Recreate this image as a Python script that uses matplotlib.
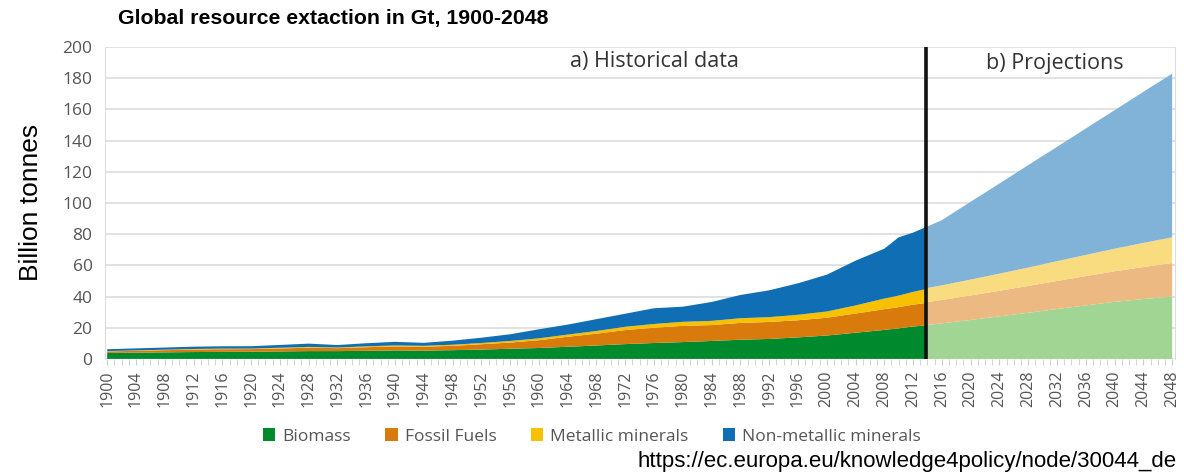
"""Global resource extraction in Gt, 1900-2048 (stacked area, history + projections)."""
import matplotlib
matplotlib.use("Agg")
import matplotlib.pyplot as plt
from matplotlib.patches import Patch

# historical data, Gt
hist_years = [1900, 1904, 1908, 1912, 1916, 1920, 1924, 1928, 1932, 1936, 1940, 1944,
              1948, 1952, 1956, 1960, 1964, 1968, 1972, 1976, 1980, 1984, 1988, 1992,
              1996, 2000, 2004, 2008, 2010, 2012, 2014]
hist_biomass = [3.8, 4.0, 4.2, 4.4, 4.5, 4.6, 4.8, 5.0, 5.0, 5.2, 5.4, 5.3,
                5.6, 6.0, 6.5, 7.0, 7.8, 8.6, 9.5, 10.2, 10.8, 11.5, 12.3, 12.8,
                13.8, 15.0, 16.8, 18.6, 19.6, 20.8, 21.5]
hist_fossil = [1.0, 1.2, 1.4, 1.6, 1.7, 1.7, 1.9, 2.2, 1.9, 2.3, 2.6, 2.5,
               2.8, 3.4, 4.0, 5.0, 6.4, 7.6, 9.0, 9.8, 10.4, 10.2, 10.8, 10.9,
               11.0, 11.4, 12.3, 13.3, 13.6, 14.0, 14.5]
hist_metallic = [0.2, 0.25, 0.3, 0.35, 0.4, 0.35, 0.45, 0.5, 0.4, 0.55, 0.65, 0.6,
                 0.7, 0.8, 1.0, 1.2, 1.4, 1.7, 2.1, 2.4, 2.6, 2.7, 3.0, 3.1,
                 3.5, 4.0, 5.2, 6.8, 7.4, 8.2, 9.0]
hist_nonmetallic = [1.2, 1.3, 1.4, 1.5, 1.5, 1.5, 1.8, 2.1, 1.6, 2.0, 2.3, 1.9,
                    2.6, 3.4, 4.3, 5.8, 6.4, 7.6, 8.4, 10.1, 9.7, 12.1, 14.9, 17.2,
                    20.2, 23.6, 28.7, 32.0, 37.4, 38.0, 40.0]

# projections, Gt
proj_years = [2014, 2016, 2020, 2024, 2028, 2032, 2036, 2040, 2044, 2048]
proj_biomass = [21.8, 22.8, 25.0, 27.3, 29.6, 32.0, 34.3, 36.6, 38.4, 40.0]
proj_fossil = [14.7, 15.0, 15.7, 16.4, 17.2, 18.0, 18.8, 19.6, 20.5, 21.5]
proj_metallic = [9.0, 9.4, 10.2, 11.0, 11.8, 12.7, 13.6, 14.5, 15.5, 16.5]
proj_nonmetallic = [39.5, 41.8, 49.9, 57.8, 65.7, 73.3, 81.1, 88.8, 96.9, 105.0]

labels = ["Biomass", "Fossil Fuels", "Metallic minerals", "Non-metallic minerals"]
colors = ["#008a2e", "#d97b0c", "#f7c000", "#0f6eb4"]
light = ["#a1d594", "#ebb981", "#f8dc7f", "#80b3d7"]

tick_years = list(range(1900, 2049, 4))
divider_year = 2013.8

fig = plt.figure(figsize=(11.84, 4.76), dpi=100)
ax = fig.add_axes([0.0887, 0.246, 0.9037, 0.655])

ax.stackplot(hist_years, hist_biomass, hist_fossil, hist_metallic, hist_nonmetallic,
             colors=colors, linewidth=0)
ax.stackplot(proj_years, proj_biomass, proj_fossil, proj_metallic, proj_nonmetallic,
             colors=light, linewidth=0)
ax.axvline(divider_year, color="#111111", linewidth=2.6, zorder=5)

ax.set_xlim(1899.7, 2048.4)
ax.set_ylim(0, 200)
ax.set_yticks(range(0, 201, 20))
ax.set_xticks(tick_years)
ax.set_xticks(range(1900, 2049), minor=True)
ax.set_xticklabels([str(y) for y in tick_years], rotation=90, family="Open Sans",
                   fontsize=11.5, color="#555555")
for lbl in ax.get_yticklabels():
    lbl.set_family("Open Sans")
    lbl.set_fontsize(12.5)
    lbl.set_color("#555555")
ax.tick_params(axis="y", length=0, pad=9)
ax.tick_params(axis="x", which="both", length=4, color="#cccccc", pad=4)
ax.grid(axis="y", color="#dddddd", linewidth=1.2)
ax.set_axisbelow(True)
for side in ["top", "bottom"]:
    ax.spines[side].set_visible(False)
for side in ["left", "right"]:
    ax.spines[side].set_color("#dddddd")

fig.text(0.553, 0.87, "a) Historical data", family="Open Sans", fontsize=15.5,
         color="#333333", ha="center", va="center")
fig.text(0.891, 0.867, "b) Projections", family="Open Sans", fontsize=15.5,
         color="#333333", ha="center", va="center")

fig.text(0.1, 0.962, "Global resource extaction in Gt, 1900-2048", family="Liberation Sans",
         fontsize=15.3, fontweight="bold", ha="left", va="center")
fig.text(0.026, 0.575, "Billion tonnes", family="Liberation Sans", fontsize=19,
         rotation=90, ha="center", va="center")
fig.text(0.994, 0.03, "https://ec.europa.eu/knowledge4policy/node/30044_de",
         family="Liberation Sans", fontsize=16, ha="right", va="center")

handles = [Patch(facecolor=c, label=l) for c, l in zip(colors, labels)]
fig.legend(handles=handles, loc="center", bbox_to_anchor=(0.5, 0.083), ncol=4,
           frameon=False, handlelength=0.7, handleheight=0.7, handletextpad=0.4,
           columnspacing=2.0, prop={"family": "Open Sans", "size": 12.5},
           labelcolor="#555555")

fig.savefig("out.png", dpi=100)
